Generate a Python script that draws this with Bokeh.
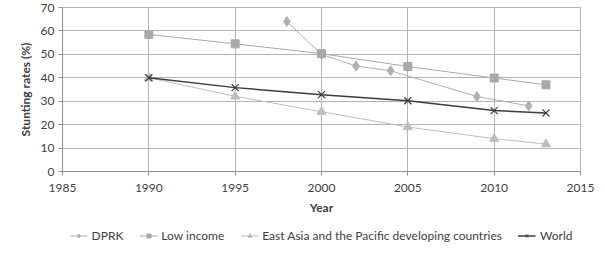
from bokeh.plotting import figure
from bokeh.layouts import column
from bokeh.models import Range1d, Legend, LegendItem, FixedTicker
from bokeh.embed import file_html
from bokeh.resources import INLINE

dprk_years = [1998, 2000, 2002, 2004, 2009, 2012]
dprk_vals = [64, 50, 45, 43, 32, 28]

low_years = [1990, 1995, 2000, 2005, 2010, 2013]
low_vals = [58.5, 54.5, 50.3, 44.8, 39.9, 37]

eap_years = [1990, 1995, 2000, 2005, 2010, 2013]
eap_vals = [40, 32.1, 25.5, 19, 14, 11.7]

world_years = [1990, 1995, 2000, 2005, 2010, 2013]
world_vals = [40, 35.8, 32.8, 30.2, 26, 25]

series_names = ["DPRK", "Low income",
                "East Asia and the Pacific developing countries", "World"]

x_ticks = [1985, 1990, 1995, 2000, 2005, 2010, 2015]
y_ticks = [0, 10, 20, 30, 40, 50, 60, 70]

FONT = "Lato"
GRID = "#b4b4b4"

p = figure(width=605, height=221, output_backend="svg", toolbar_location=None,
           x_range=Range1d(1985, 2015), y_range=Range1d(0, 70),
           min_border_left=62, min_border_right=25, min_border_top=7,
           min_border_bottom=50)

p.xaxis.ticker = FixedTicker(ticks=x_ticks)
p.yaxis.ticker = FixedTicker(ticks=y_ticks)
p.xgrid.ticker = FixedTicker(ticks=x_ticks)
p.ygrid.ticker = FixedTicker(ticks=y_ticks)
for g in (p.xgrid, p.ygrid):
    g.grid_line_color = GRID
    g.grid_line_width = 1
p.outline_line_color = GRID

for ax in (p.xaxis, p.yaxis):
    ax.axis_line_color = "#909090"
    ax.major_tick_line_color = "#909090"
    ax.major_tick_out = 4
    ax.major_tick_in = 0
    ax.minor_tick_line_color = None
    ax.major_label_text_font = FONT
    ax.major_label_text_font_size = "12px"
    ax.major_label_text_color = "#404040"
    ax.axis_label_text_font = FONT
    ax.axis_label_text_font_size = "12px"
    ax.axis_label_text_font_style = "bold"
    ax.axis_label_text_color = "#404040"

p.xaxis.axis_label = "Year"
p.yaxis.axis_label = "Stunting rates (%)"
p.xaxis.major_label_standoff = 8
p.xaxis.axis_label_standoff = 5
p.yaxis.major_label_standoff = 4
p.yaxis.axis_label_standoff = 5

c_dprk = "#b0b0b0"
c_low = "#a9a9a9"
c_eap = "#bdbdbd"
c_world = "#3c3c3c"

styles = [
    dict(color=c_dprk, marker="diamond", size=10, lw=1),
    dict(color=c_low, marker="square", size=8, lw=1),
    dict(color=c_eap, marker="triangle", size=9, lw=1),
    dict(color=c_world, marker="x", size=10, lw=1.5),
]
data = [(dprk_years, dprk_vals), (low_years, low_vals),
        (eap_years, eap_vals), (world_years, world_vals)]

for (xs, ys), st in zip(data, styles):
    p.line(xs, ys, line_color=st["color"], line_width=st["lw"])
    if st["marker"] == "x":
        p.scatter(xs, ys, marker="x", size=st["size"], line_color=st["color"], line_width=1.2)
    else:
        p.scatter(xs, ys, marker=st["marker"], size=st["size"],
                  fill_color=st["color"], line_color=st["color"])

# Legend strip below the chart (series drawn out of view; only legend shows)
q = figure(width=605, height=28, output_backend="svg", toolbar_location=None,
           x_range=Range1d(0, 1), y_range=Range1d(0, 1),
           x_axis_type=None, y_axis_type=None,
           min_border_left=0, min_border_right=0, min_border_top=0, min_border_bottom=0)
q.outline_line_color = None
q.xgrid.visible = False
q.ygrid.visible = False

items = []
for name, (xs, ys), st in zip(series_names, data, styles):
    lr = q.line(xs, ys, line_color=st["color"], line_width=st["lw"])
    if st["marker"] == "x":
        mr = q.scatter(xs, ys, marker="x", size=st["size"] - 1,
                       line_color=st["color"], line_width=1.2)
    else:
        mr = q.scatter(xs, ys, marker=st["marker"], size=st["size"] - 2,
                       fill_color=st["color"], line_color=st["color"])
    items.append(LegendItem(label=name, renderers=[lr, mr]))

legend = Legend(items=items, orientation="horizontal", border_line_color=None,
                background_fill_alpha=0, label_text_font=FONT,
                label_text_font_size="12px", label_text_color="#404040",
                glyph_width=18, glyph_height=10, spacing=16, padding=2, margin=0,
                label_standoff=4, location="center")
q.add_layout(legend, "center")

open("out.html", "w").write(file_html(column(p, q, spacing=0), INLINE))
